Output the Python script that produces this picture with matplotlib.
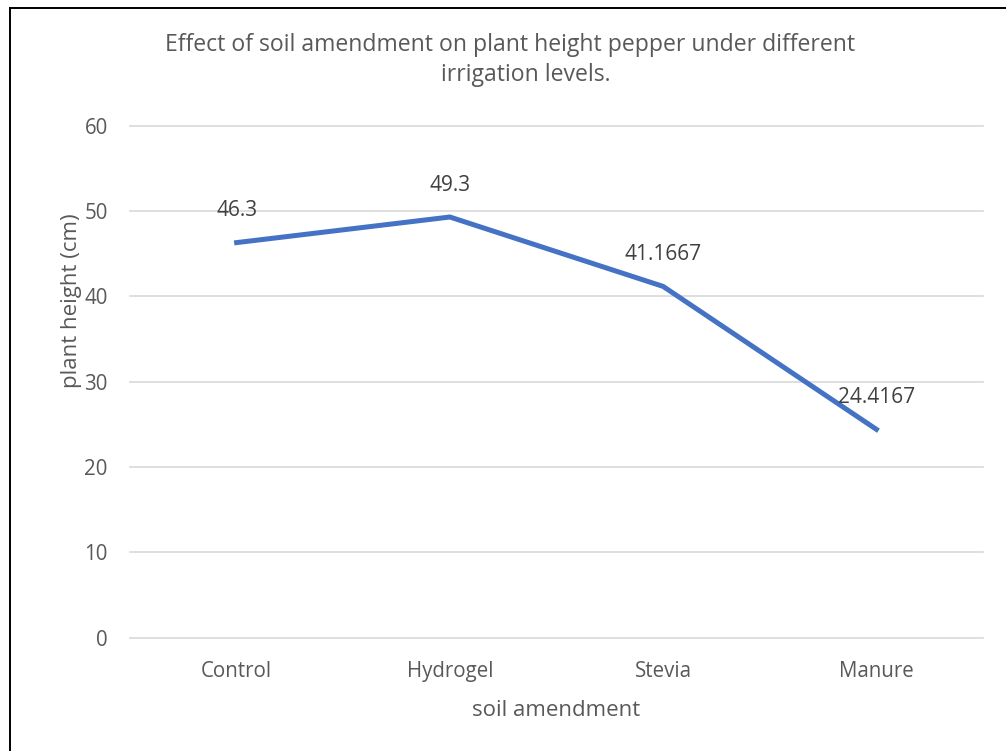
import matplotlib
matplotlib.use("Agg")
import matplotlib.pyplot as plt
from matplotlib.lines import Line2D

categories = ["Control", "Hydrogel", "Stevia", "Manure"]
heights = [46.3, 49.3, 41.1667, 24.4167]
value_labels = ["46.3", "49.3", "41.1667", "24.4167"]
yticks = [0, 10, 20, 30, 40, 50, 60]

plt.rcParams['font.family'] = ['Open Sans', 'DejaVu Sans']
txt = '#595959'

W, H = 1006, 751
fig = plt.figure(figsize=(W / 100, H / 100), dpi=100)
ax = fig.add_axes([130 / W, 1 - 637.7 / H, (983 - 130) / W, (637.7 - 125.7) / H])

x = list(range(len(categories)))
ax.plot(x, heights, color='#4472C4', linewidth=3.6, solid_joinstyle='miter', zorder=3)
for xi, yi, lab in zip(x, heights, value_labels):
    ax.annotate(lab, (xi, yi), xytext=(0, 23), textcoords='offset points',
                ha='center', va='center', fontsize=15, color='#404040')

ax.set_xlim(-0.5, len(categories) - 0.5)
ax.set_ylim(0, 60)
ax.set_yticks(yticks)
ax.set_xticks(x)
ax.set_xticklabels(categories)
ax.tick_params(axis='both', length=0, labelsize=14.8, labelcolor=txt)
ax.tick_params(axis='y', pad=16)
ax.tick_params(axis='x', pad=17)
ax.grid(axis='y', color='#D9D9D9', linewidth=1.2)
for gl in ax.get_ygridlines():
    gl.set_clip_on(False)
ax.set_axisbelow(True)
for s in ax.spines.values():
    s.set_visible(False)

ax.set_xlabel("soil amendment", fontsize=16, color=txt, labelpad=13)
ax.set_ylabel("plant height (cm)", fontsize=16, color=txt)
ax.yaxis.set_label_coords((82 - 130) / (983 - 130), (637.7 - 301) / (637.7 - 125.7))

fig.text(510 / W, 1 - 45 / H, "Effect of soil amendment on plant height pepper under different",
         ha='center', va='center', fontsize=16.6, color=txt)
fig.text(526 / W, 1 - 75 / H, "irrigation levels.",
         ha='center', va='center', fontsize=16.6, color=txt)

# outer border (top and left edges visible)
fig.add_artist(Line2D([9.5 / W, 9.5 / W], [0, 1 - 7.5 / H], transform=fig.transFigure,
                      color='black', linewidth=1.4))
fig.add_artist(Line2D([9.5 / W, 1], [1 - 7.5 / H, 1 - 7.5 / H], transform=fig.transFigure,
                      color='black', linewidth=1.4))

fig.savefig("out.png", dpi=100)
